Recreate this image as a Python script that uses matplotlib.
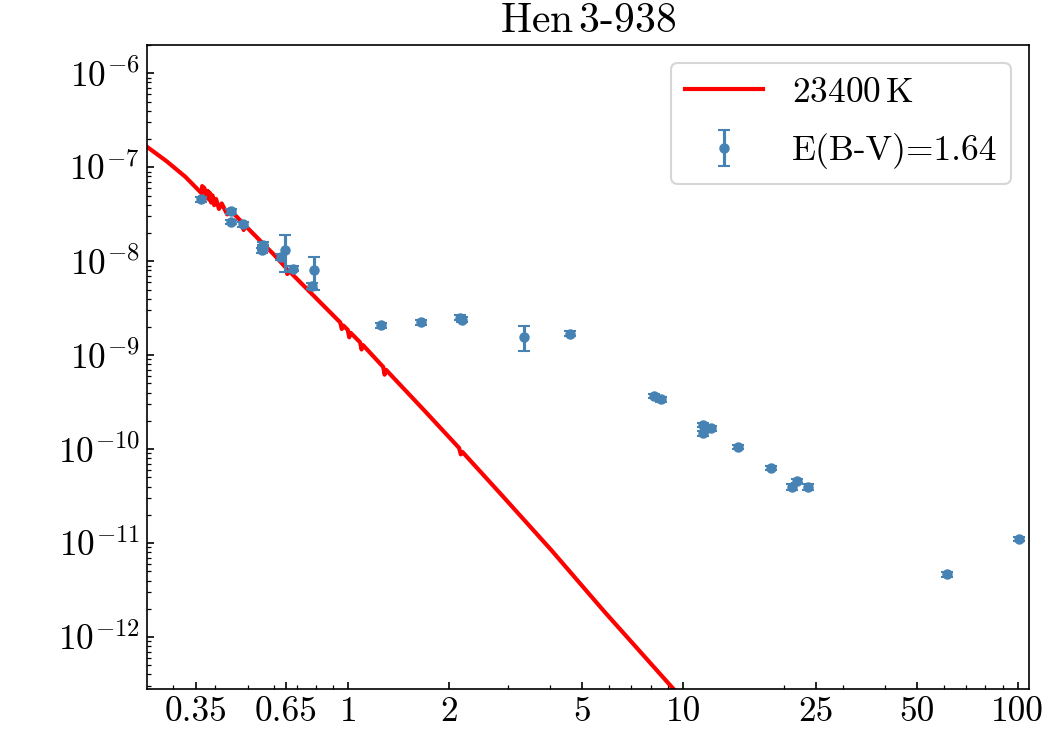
import matplotlib
matplotlib.use("Agg")
import matplotlib.pyplot as plt
from matplotlib.ticker import NullFormatter

plt.rcParams["font.family"] = "serif"
plt.rcParams["font.serif"] = ["cmr10"]
plt.rcParams["mathtext.fontset"] = "cm"
plt.rcParams["axes.formatter.use_mathtext"] = True
plt.rcParams["axes.unicode_minus"] = False

# model spectrum, 23400 K (wavelength in micron, flux)
model_wl = [0.25, 0.286, 0.325, 0.3646, 0.3655, 0.371, 0.3771, 0.3785, 0.3798,
            0.3815, 0.3835, 0.386, 0.3889, 0.3925, 0.397, 0.402, 0.4102, 0.418,
            0.434, 0.440, 0.4473, 0.4793, 0.4861, 0.491, 0.531, 0.601, 0.650,
            0.6563, 0.661, 0.758, 0.91, 0.945, 0.955, 0.965, 0.995, 1.005, 1.015,
            1.083, 1.094, 1.105, 1.27, 1.282, 1.295, 1.69, 2.14, 2.166, 2.19,
            2.862, 4.036, 5.82, 9.42, 10.0]
model_flux = [1.65e-7, 1.16e-7, 7.95e-8, 5.25e-8, 6.3e-8, 6.0e-8, 4.8e-8, 5.6e-8, 4.7e-8,
              5.5e-8, 4.5e-8, 5.3e-8, 4.2e-8, 5.0e-8, 3.95e-8, 4.6e-8, 3.6e-8, 4.12e-8,
              3.15e-8, 3.55e-8, 3.40e-8, 2.62e-8, 2.15e-8, 2.40e-8, 1.81e-8, 1.16e-8, 8.53e-9,
              7.3e-9, 8.02e-9, 4.91e-9, 2.55e-9, 2.23e-9, 1.90e-9, 2.07e-9, 1.86e-9, 1.55e-9, 1.73e-9,
              1.37e-9, 1.15e-9, 1.28e-9, 7.49e-10, 6.2e-10, 6.98e-10, 2.55e-10, 1.03e-10, 8.8e-11, 9.34e-11,
              3.28e-11, 8.43e-12, 1.86e-12, 2.73e-13, 2.2e-13]

# photometry dereddened with E(B-V)=1.64
phot_wl = [0.362, 0.447, 0.445, 0.485, 0.554, 0.556, 0.553, 0.627, 0.645, 0.681,
           0.776, 0.790, 1.249, 1.644, 2.16, 2.19, 3.345, 4.59, 8.21, 8.60,
           11.45, 11.6, 11.45, 12.12, 14.56, 18.31, 21.1, 21.89, 23.66, 61.3, 100.5]
phot_flux = [4.57e-8, 3.40e-8, 2.62e-8, 2.48e-8, 1.50e-8, 1.40e-8, 1.31e-8, 1.11e-8, 1.33e-8, 8.35e-9,
             5.42e-9, 8.0e-9, 2.08e-9, 2.24e-9, 2.50e-9, 2.38e-9, 1.57e-9, 1.70e-9, 3.66e-10, 3.38e-10,
             1.80e-10, 1.63e-10, 1.48e-10, 1.66e-10, 1.06e-10, 6.33e-11, 3.97e-11, 4.6e-11, 3.97e-11, 4.65e-12, 1.11e-11]
phot_err = [2.5e-9, 2.0e-9, 1.5e-9, 1.5e-9, 9e-10, 8e-10, 8e-10, 7e-10, 5.7e-9, 5e-10,
            4e-10, 3.1e-9, 1.2e-10, 1.3e-10, 1.5e-10, 1.4e-10, 4.5e-10, 9e-11, 2e-11, 2e-11,
            1e-11, 1e-11, 9e-12, 1e-11, 6e-12, 3.5e-12, 2.5e-12, 2.5e-12, 2.5e-12, 3e-13, 6e-13]

xticks = [0.35, 0.65, 1, 2, 5, 10, 25, 50, 100]
xticklabels = ["0.35", "0.65", "1", "2", "5", "10", "25", "50", "100"]

fig, ax = plt.subplots(figsize=(7, 5), dpi=150)
fig.subplots_adjust(left=0.14, right=0.98, bottom=0.0813, top=0.94)

ax.plot(model_wl, model_flux, color="red", lw=2, label="23400$\\,$K")
ax.errorbar(phot_wl, phot_flux, yerr=phot_err, fmt="o", color="steelblue",
            ms=4, capsize=3, elinewidth=1.5, label="E(B-V)=1.64")

ax.set_xscale("log")
ax.set_yscale("log")
ax.set_xlim(0.25, 108)
ax.set_ylim(2.8e-13, 2e-6)
ax.set_xticks(xticks)
ax.set_xticklabels(xticklabels)
ax.xaxis.set_minor_formatter(NullFormatter())
ax.yaxis.set_minor_formatter(NullFormatter())
ax.tick_params(which="both", direction="in", labelsize=17)

ax.set_title("Hen$\\,$3-938", fontsize=20)
ax.legend(loc="upper right", fontsize=17, handlelength=2.2, labelspacing=0.7)

fig.savefig("out.png", dpi=150)
